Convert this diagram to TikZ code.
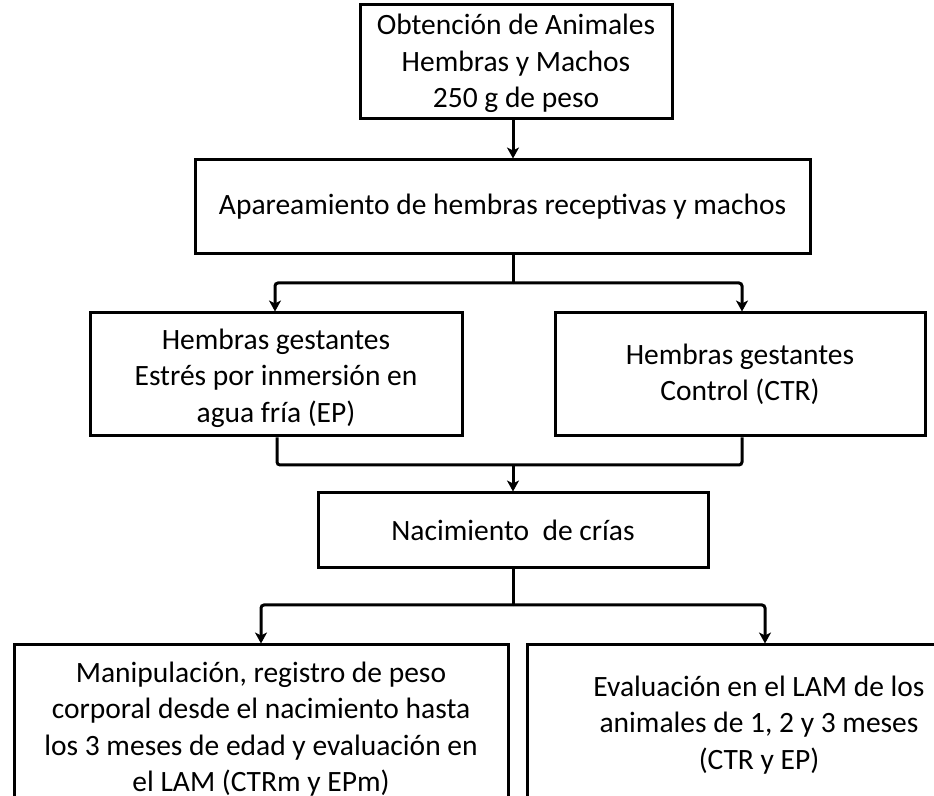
\documentclass[tikz,border=0pt]{standalone}
\usepackage{fontspec}
\setmainfont{Carlito}
\usetikzlibrary{arrows.meta}
\newcommand\topst[1]{\rule{0pt}{#1pt}}
\newcommand\botst[1]{\rule[-#1pt]{0pt}{#1pt}}
\begin{document}
\begin{tikzpicture}[x=1pt,y=1pt,
  box/.style={draw, line width=3pt, align=center, inner sep=0pt, font=\fontsize{29.5}{36.3}\selectfont},
  conn/.style={line width=3pt},
  arr/.style={conn, -{Stealth[length=11pt,width=12pt,inset=3pt]}}]
\useasboundingbox (0,0) rectangle (934,795);
\clip (0,0) rectangle (934,795);
\node[box, minimum width=312, minimum height=107] (n1) at (516,733.5) {\topst{30}Obtención de Animales\\Hembras y Machos\\250 g de peso\botst{10.6}};
\node[box, minimum width=615, minimum height=94] (n2) at (502.5,588) {Apareamiento de hembras receptivas y machos};
\node[box, minimum width=372, minimum height=123] (n3L) at (276,420.5) {\topst{33}Hembras gestantes\\Estrés por inmersión en\\agua fría (EP)\botst{10}};
\node[box, minimum width=370, minimum height=123] (n3R) at (740,420.5) {\topst{30}Hembras gestantes\\Control (CTR)\botst{14}};
\node[box, minimum width=390, minimum height=75] (n4) at (513,264.5) {Nacimiento\ \ de crías};
\node[box, minimum width=494, minimum height=168] (n5L) at (261,66) {Manipulación, registro de peso\\corporal desde el nacimiento hasta\\los 3 meses de edad y evaluación en\\el LAM (CTRm y EPm)};
\node[box, minimum width=464, minimum height=164] (n5R) at (759,68) {\topst{30}Evaluación en el LAM de los\\animales de 1, 2 y 3 meses\\(CTR y EP)\botst{18}};
% helper coordinates
\coordinate (c) at (513,0);
\coordinate (b1) at (513,512);
\coordinate (xL1) at (275,0);
\coordinate (xR1) at (742,0);
\coordinate (bL) at (277,330);
\coordinate (bR) at (742,330);
\coordinate (bm) at (513,330);
\coordinate (b3) at (513,190);
\coordinate (xL2) at (261,0);
\coordinate (xR2) at (765,0);
% connectors
\draw[arr] (n1.south -| c) -- (n2.north -| c);
\draw[conn] (n2.south -| c) -- (b1);
\draw[arr, rounded corners=3pt] (b1) -| (n3L.north -| xL1);
\draw[arr, rounded corners=3pt] (b1) -| (n3R.north -| xR1);
\draw[conn, rounded corners=3pt] (n3L.south -| bL) -- (bL) -- (bR) -- (n3R.south -| bR);
\draw[arr] (bm) -- (n4.north -| c);
\draw[conn] (n4.south -| c) -- (b3);
\draw[arr, rounded corners=3pt] (b3) -| (n5L.north -| xL2);
\draw[arr, rounded corners=3pt] (b3) -| (n5R.north -| xR2);
\end{tikzpicture}
\end{document}
